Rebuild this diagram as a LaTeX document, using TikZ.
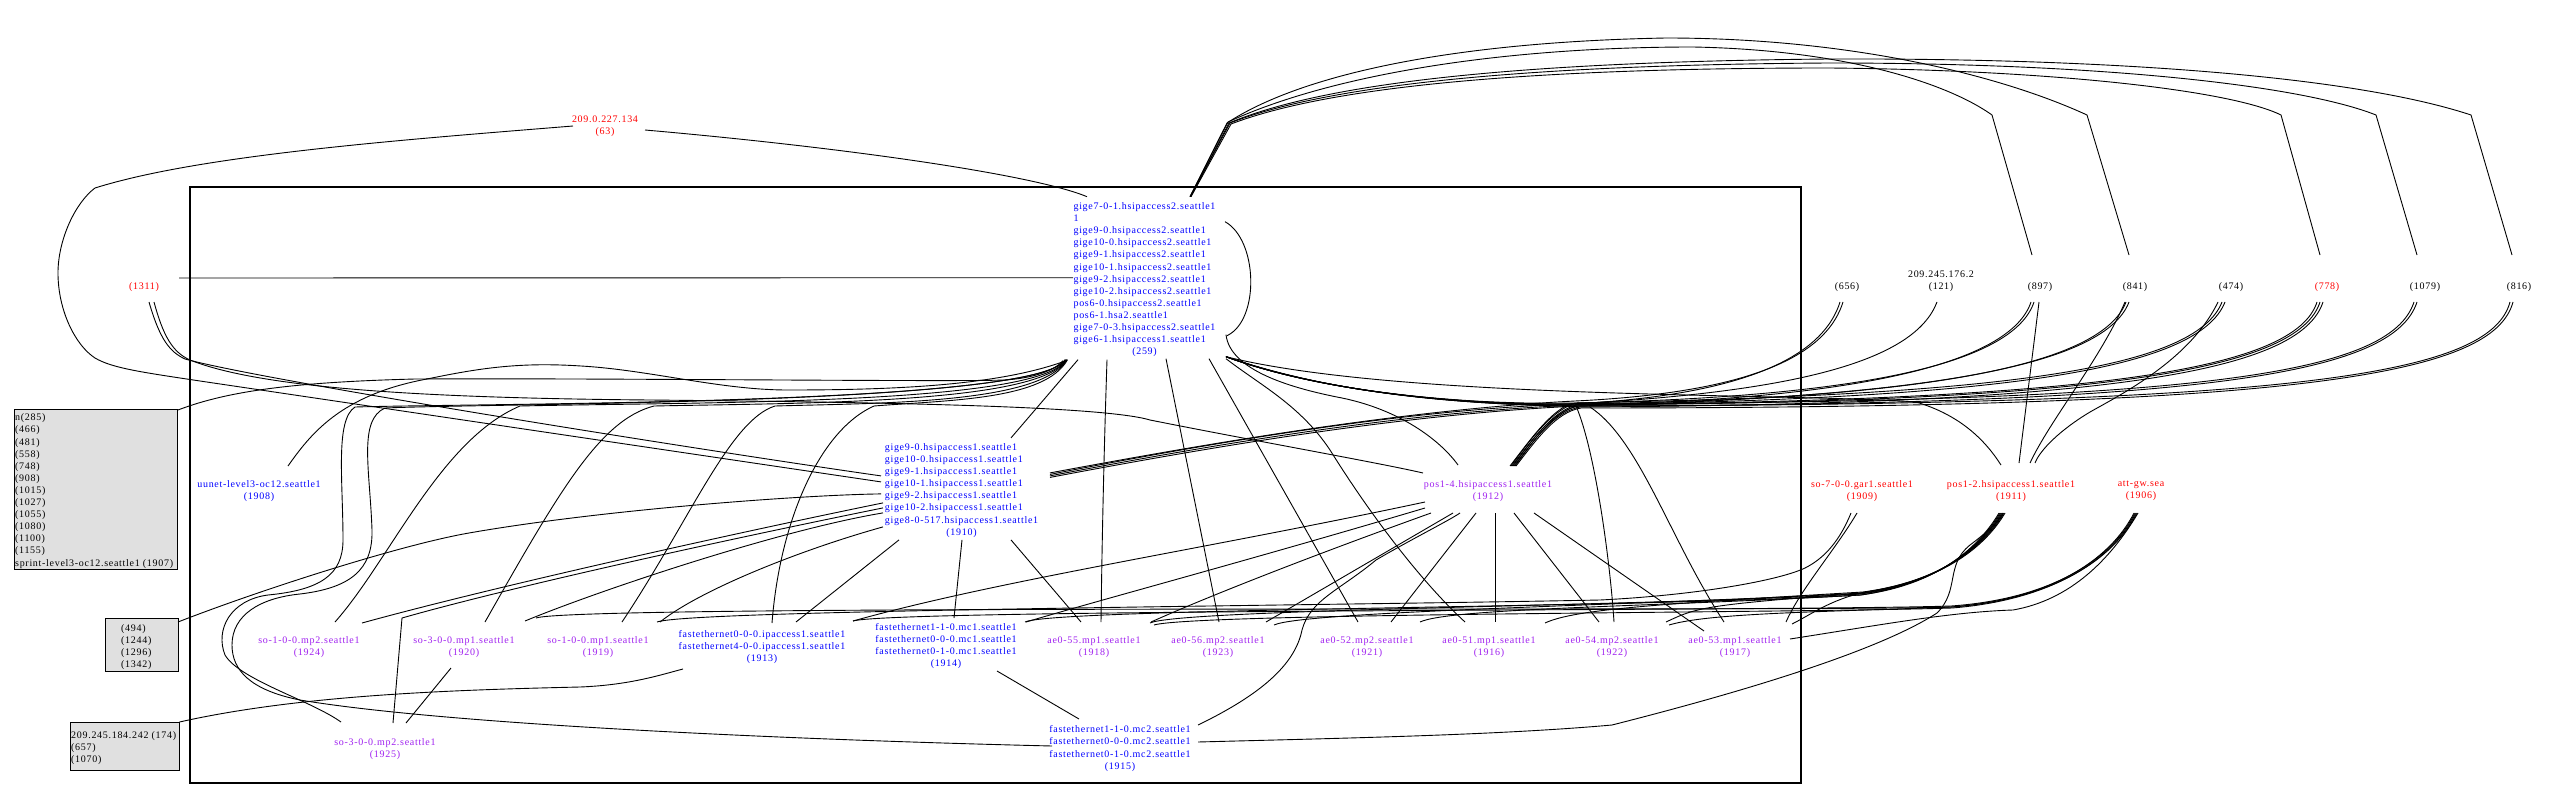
\documentclass[tikz,border=0pt]{standalone}
\usepackage{fontspec}
\setmainfont{Liberation Serif}[LetterSpace=7]
\usetikzlibrary{calc}
\definecolor{nblue}{RGB}{0,0,255}
\definecolor{nred}{RGB}{255,0,0}
\definecolor{npurple}{RGB}{160,32,240}
\definecolor{ngray}{RGB}{224,224,224}
\tikzset{
  lbl/.style={font=\fontsize{10}{12.1}\selectfont, inner sep=0pt, align=center},
  bl/.style={lbl, text=nblue},
  rd/.style={lbl, text=nred},
  pu/.style={lbl, text=npurple},
  bk/.style={lbl, text=black},
  gbox/.style={draw=black, fill=ngray, line width=1pt, inner sep=0pt},
  conn/.style={draw=black, line width=0.9pt},
}
\begin{document}
\begin{tikzpicture}[x=1pt,y=-1pt]
\useasboundingbox (0,0) rectangle (2569,797);
\fill[white] (0,0) rectangle (2569,797);
% cluster
\draw[line width=1.3pt] (190,187) rectangle (1801,783);

% gray boxes
\node[gbox, minimum width=163.1pt, minimum height=160pt] (n1907) at (96,489) {};
\node[bk, align=left, anchor=west] (t1907) at (15,491) {n(285)\\(466)\\(481)\\(558)\\(748)\\(908)\\(1015)\\(1027)\\(1055)\\(1080)\\(1100)\\(1155)\\sprint-level3-oc12.seattle1 (1907)};
\node[gbox, minimum width=73pt, minimum height=53pt] (nB2) at (141.5,644.5) {};
\node[bk, align=left, anchor=west] (tB2) at (121,647) {(494)\\(1244)\\(1296)\\(1342)};
\node[gbox, minimum width=109pt, minimum height=48pt] (nB3) at (125,746) {};
\node[bk, align=left, anchor=west] (tB3) at (71,748) {209.245.184.242 (174)\\(657)\\(1070)};

% labels
\node[rd] (n63) at (605,126.5) {209.0.227.134\\(63)};
\node[rd] (n1311) at (144,287) {(1311)};
\node[bl] (n259) at (1144.5,279.7) {\begin{tabular}{@{}l@{}}gige7-0-1.hsipaccess2.seattle1\\1\\gige9-0.hsipaccess2.seattle1\\gige10-0.hsipaccess2.seattle1\\gige9-1.hsipaccess2.seattle1\\gige10-1.hsipaccess2.seattle1\\gige9-2.hsipaccess2.seattle1\\gige10-2.hsipaccess2.seattle1\\pos6-0.hsipaccess2.seattle1\\pos6-1.hsa2.seattle1\\gige7-0-3.hsipaccess2.seattle1\\gige6-1.hsipaccess1.seattle1\\\multicolumn{1}{@{}c@{}}{(259)}\end{tabular}};
\node[bl] (n1908) at (259,491) {uunet-level3-oc12.seattle1\\(1908)};
\node[bl] (n1910) at (961.5,490.4) {\begin{tabular}{@{}l@{}}gige9-0.hsipaccess1.seattle1\\gige10-0.hsipaccess1.seattle1\\gige9-1.hsipaccess1.seattle1\\gige10-1.hsipaccess1.seattle1\\gige9-2.hsipaccess1.seattle1\\gige10-2.hsipaccess1.seattle1\\gige8-0-517.hsipaccess1.seattle1\\\multicolumn{1}{@{}c@{}}{(1910)}\end{tabular}};
\node[pu] (n1912) at (1488,491) {pos1-4.hsipaccess1.seattle1\\(1912)};
\node[rd] (n1909) at (1862,491) {so-7-0-0.gar1.seattle1\\(1909)};
\node[rd] (n1911) at (2011,491) {pos1-2.hsipaccess1.seattle1\\(1911)};
\node[rd] (n1906) at (2141,491) {att-gw.sea\\(1906)};
\node[bk] (n656) at (1847,287) {(656)};
\node[bk] (n121) at (1941,281) {209.245.176.2\\(121)};
\node[bk] (n897) at (2040,287) {(897)};
\node[bk] (n841) at (2135,287) {(841)};
\node[bk] (n474) at (2231,287) {(474)};
\node[rd] (n778) at (2327,287) {(778)};
\node[bk] (n1079) at (2425,287) {(1079)};
\node[bk] (n816) at (2519,287) {(816)};
\node[pu] (n1924) at (309,647) {so-1-0-0.mp2.seattle1\\(1924)};
\node[pu] (n1920) at (464,647) {so-3-0-0.mp1.seattle1\\(1920)};
\node[pu] (n1919) at (598,647) {so-1-0-0.mp1.seattle1\\(1919)};
\node[bl] (n1913) at (762,647) {fastethernet0-0-0.ipaccess1.seattle1\\fastethernet4-0-0.ipaccess1.seattle1\\(1913)};
\node[bl] (n1914) at (946,646) {fastethernet1-1-0.mc1.seattle1\\fastethernet0-0-0.mc1.seattle1\\fastethernet0-1-0.mc1.seattle1\\(1914)};
\node[pu] (n1918) at (1094,647) {ae0-55.mp1.seattle1\\(1918)};
\node[pu] (n1923) at (1218,647) {ae0-56.mp2.seattle1\\(1923)};
\node[pu] (n1921) at (1367,647) {ae0-52.mp2.seattle1\\(1921)};
\node[pu] (n1916) at (1489,647) {ae0-51.mp1.seattle1\\(1916)};
\node[pu] (n1922) at (1612,647) {ae0-54.mp2.seattle1\\(1922)};
\node[pu] (n1917) at (1735,647) {ae0-53.mp1.seattle1\\(1917)};
\node[pu] (n1925) at (385,749) {so-3-0-0.mp2.seattle1\\(1925)};
\node[bl] (n1915) at (1120,748.5) {fastethernet1-1-0.mc2.seattle1\\fastethernet0-0-0.mc2.seattle1\\fastethernet0-1-0.mc2.seattle1\\(1915)};

% ---- connectors ----
\path[conn] ($(n63)+(40,3.5)$) .. controls (850,148) and (1035,175) .. ($(n259)+(-57.5,-83)$);
\path[conn] ($(n63)+(-32,-0.5)$) .. controls (400,140) and (200,155) .. (95,188) .. controls (75,203) and (58,240) .. (58,273) .. controls (58,310) and (75,345) .. (95,358) .. controls (112,368) and (140,372) .. (200,381) -- ($(n1910)+(-80.5,-8.5)$);
\path[conn] ($(n1311)+(35,-9)$) -- ($(n259)+(-71.5,-2)$);
\path[conn] ($(n1311)+(5,15)$) .. controls (160,340) and (170,352) .. (185,359) .. controls (260,380) and (700,450) .. ($(n1910)+(-80.5,-14.5)$);
\path[conn] ($(n1311)+(10,15)$) .. controls (163,335) and (172,352) .. (190,360) .. controls (260,388) and (420,398) .. (650,400) .. controls (850,402) and (1100,405) .. (1150,420) .. controls (1250,440) and (1380,463) .. ($(n1912)+(-65,-18)$);
\path[conn] ($(n1907)+(82,-79)$) .. controls (230,390) and (300,382) .. (415,379) .. controls (600,378) and (950,382) .. (1005,380) .. controls (1035,378) and (1055,370) .. ($(n259)+(-81.5,81)$);
\path[conn] ($(n1908)+(29,-25)$) .. controls (310,435) and (340,395) .. (427,379) .. controls (480,368) and (520,362) .. (581,366) .. controls (650,370) and (720,390) .. (788,390) .. controls (900,390) and (1000,385) .. ($(n259)+(-78.5,81)$);
% bundle into 259 bottom-left
\path[conn] ($(n1924)+(26,-25)$) .. controls (390,560) and (440,440) .. (520,406) .. controls (700,402) and (1040,405) .. ($(n259)+(-78.5,80)$);
\path[conn] ($(n1920)+(21,-25)$) .. controls (560,490) and (600,420) .. (654,406) .. controls (800,403) and (1040,404) .. ($(n259)+(-78,80)$);
\path[conn] ($(n1919)+(24,-25)$) .. controls (690,520) and (730,420) .. (775,406) .. controls (880,403) and (1040,404) .. ($(n259)+(-77.5,80)$);
\path[conn] ($(n1913)+(10,-24)$) .. controls (780,520) and (820,430) .. (874,406) .. controls (950,400) and (1045,400) .. ($(n259)+(-77,80)$);
\path[conn] ($(n1925)+(-44,-27)$) .. controls (310,700) and (240,680) .. (225,655) .. controls (215,630) and (230,600) .. (268,595) .. controls (320,590) and (343,575) .. (343,540) .. controls (343,480) and (335,420) .. (355,407) .. controls (500,403) and (1040,405) .. ($(n259)+(-79,80)$);
\path[conn] ($(n1915)+(-68,-2.5)$) .. controls (800,740) and (450,725) .. (300,700) .. controls (250,690) and (232,670) .. (232,645) .. controls (232,615) and (260,598) .. (300,594) .. controls (350,588) and (373,570) .. (372,530) .. controls (370,470) and (358,420) .. (385,408) .. controls (500,403) and (1040,405) .. ($(n259)+(-79.5,80)$);
% 259 down
\path[conn] ($(n259)+(-66.5,80)$) -- ($(n1910)+(49.5,-52.5)$);
\path[conn] ($(n259)+(-37.5,80)$) .. controls (1104,450) and (1102,540) .. ($(n1918)+(7,-25)$);
\path[conn] ($(n1910)+(0.5,49.5)$) -- ($(n1914)+(8,-28)$);
\path[conn] ($(n259)+(21.5,79)$) -- ($(n1923)+(1,-25)$);
\path[conn] ($(n259)+(64.5,79)$) -- ($(n1921)+(-9,-25)$);
\path[conn] ($(n259)+(81.5,79)$) .. controls (1260,385) and (1300,405) .. (1330,450) .. controls (1380,530) and (1430,590) .. ($(n1916)+(-24,-25)$);
\path[conn] ($(n259)+(81.5,55)$) .. controls (1230,370) and (1290,388) .. (1342,398) .. controls (1400,410) and (1440,440) .. ($(n1912)+(-30,-26)$);
\path[conn] ($(n259)+(80.5,-58)$) .. controls (1258,240) and (1260,320) .. ($(n259)+(82.5,56)$);
% 1910 fan to the left / down
\path[conn] ($(nB2)+(36.5,-22.5)$) .. controls (260,590) and (400,545) .. (469,533) .. controls (600,510) and (800,495) .. ($(n1910)+(-80.5,3.5)$);
\path[conn] ($(n1910)+(-78.5,12.5)$) .. controls (750,530) and (500,585) .. ($(n1924)+(53,-24)$);
\path[conn] ($(n1910)+(-78.5,17.5)$) .. controls (700,545) and (500,590) .. (402,618) -- ($(n1925)+(8,-26)$);
\path[conn] ($(n1910)+(-78.5,22.5)$) .. controls (780,530) and (600,590) .. ($(n1920)+(61,-26)$);
\path[conn] ($(n1910)+(-78.5,36.5)$) .. controls (800,550) and (700,590) .. ($(n1919)+(62,-25)$);
\path[conn] ($(n1910)+(-62.5,49.5)$) -- ($(n1913)+(34,-25)$);
\path[conn] ($(n1910)+(49.5,49.5)$) -- ($(n1918)+(-13,-25)$);
\path[conn] ($(n1920)+(-13,21)$) -- ($(n1925)+(21,-26)$);
\path[conn] ($(nB3)+(54.5,-24)$) .. controls (300,695) and (450,690) .. (580,687) .. controls (630,685) and (660,675) .. ($(n1913)+(-79,22)$);
\path[conn] ($(n1914)+(51,25)$) -- ($(n1915)+(-41,-29.5)$);
\path[conn] ($(n1915)+(78,-6.5)$) .. controls (1350,738) and (1500,735) .. (1612,725) .. controls (1750,690) and (1880,650) .. (1937,613) .. controls (1960,590) and (1945,565) .. (1970,545) .. controls (1990,530) and (2000,520) .. ($(n1911)+(-8,22)$);
\path[conn] ($(n1915)+(78,-23.5)$) .. controls (1260,695) and (1295,665) .. (1302,630) .. controls (1310,600) and (1340,590) .. (1376,560) .. controls (1410,540) and (1450,520) .. ($(n1912)+(-28,22)$);
% 1912 fan
\path[conn] ($(n1912)+(-63,11)$) .. controls (1200,550) and (1000,580) .. ($(n1913)+(91,-26)$);
\path[conn] ($(n1912)+(-63,17)$) .. controls (1250,560) and (1100,600) .. ($(n1914)+(80,-24)$);
\path[conn] ($(n1912)+(-57,22)$) .. controls (1300,560) and (1200,600) .. ($(n1918)+(57,-25)$);
\path[conn] ($(n1912)+(-35,22)$) -- ($(n1923)+(48,-25)$);
\path[conn] ($(n1912)+(-12,22)$) -- ($(n1921)+(24,-25)$);
\path[conn] ($(n1912)+(7,22)$) -- ($(n1916)+(6,-25)$);
\path[conn] ($(n1912)+(26,22)$) -- ($(n1922)+(-13,-25)$);
\path[conn] ($(n1912)+(46,22)$) -- ($(n1917)+(-31,-16)$);
\path[conn] ($(n259)+(81.5,77)$) .. controls (1350,400) and (1500,405) .. (1576,406) .. controls (1595,450) and (1610,560) .. ($(n1922)+(2,-25)$);
\path[conn] ($(n259)+(81.5,77)$) .. controls (1350,400) and (1500,405) .. (1590,407) .. controls (1640,440) and (1670,540) .. ($(n1917)+(-11,-25)$);
% top arcs from 259
\path[conn] ($(n259)+(45.5,-83)$) -- (1227,123) .. controls (1300,75) and (1450,42) .. (1666,38) .. controls (1850,38) and (2000,75) .. (2087,115) -- ($(n841)+(-6,-32)$);
\path[conn] ($(n259)+(45.5,-83)$) -- (1228,122) .. controls (1330,75) and (1500,47) .. (1693,47) .. controls (1850,50) and (1950,85) .. (1992,115) -- ($(n897)+(-8,-32)$);
\path[conn] ($(n259)+(46,-83)$) -- (1229,123) .. controls (1320,85) and (1500,62) .. (1829,59) .. controls (2100,58) and (2350,75) .. (2471,115) -- ($(n816)+(-7,-32)$);
\path[conn] ($(n259)+(46,-83)$) -- (1230,123) .. controls (1320,88) and (1500,65) .. (1829,63) .. controls (2100,63) and (2300,85) .. (2376,115) -- ($(n1079)+(-8,-32)$);
\path[conn] ($(n259)+(46.5,-83)$) -- (1231,124) .. controls (1320,90) and (1500,68) .. (1829,68) .. controls (2050,70) and (2230,90) .. (2281,115) -- ($(n778)+(-7,-32)$);
% hub to top-right nodes
\path[conn] ($(n259)+(81.5,77)$) .. controls (1330,395) and (1480,405) .. (1570,404) .. controls (1760,395) and (1825,350) .. ($(n656)+(-7,15)$);
\path[conn] ($(n1910)+(88.5,-17.5)$) .. controls (1200,445) and (1400,410) .. (1575,401) .. controls (1765,392) and (1828,350) .. ($(n656)+(-4,15)$);
\path[conn] ($(n1912)+(22,-25)$) .. controls (1530,440) and (1550,412) .. (1570,404) .. controls (1800,392) and (1915,360) .. ($(n121)+(-4,21)$);
\path[conn] ($(n259)+(81.5,77)$) .. controls (1330,395) and (1480,405) .. (1572,405) .. controls (1850,400) and (2010,365) .. ($(n897)+(-9,15)$);
\path[conn] ($(n1912)+(23,-25)$) .. controls (1530,440) and (1550,412) .. (1575,403) .. controls (1855,397) and (2013,365) .. ($(n897)+(-6,15)$);
\path[conn] ($(n1910)+(88.5,-16)$) .. controls (1200,445) and (1400,410) .. (1570,404) .. controls (1900,400) and (2100,370) .. ($(n841)+(-9,15)$);
\path[conn] ($(n1912)+(24,-25)$) .. controls (1532,440) and (1552,412) .. (1578,406) .. controls (1905,397) and (2103,370) .. ($(n841)+(-6,15)$);
\path[conn] ($(n259)+(81.5,77)$) .. controls (1330,395) and (1480,405) .. (1574,403) .. controls (2000,395) and (2195,370) .. ($(n474)+(-9,15)$);
\path[conn] ($(n1912)+(25,-25)$) .. controls (1532,440) and (1552,412) .. (1576,405) .. controls (2005,398) and (2198,370) .. ($(n474)+(-6,15)$);
\path[conn] ($(n259)+(81.5,77)$) .. controls (1330,395) and (1480,405) .. (1570,405) .. controls (2100,400) and (2295,370) .. ($(n778)+(-10,15)$);
\path[conn] ($(n1910)+(88.5,-14.5)$) .. controls (1200,447) and (1400,412) .. (1578,405) .. controls (2105,402) and (2298,370) .. ($(n778)+(-7,15)$);
\path[conn] ($(n1912)+(26,-25)$) .. controls (1534,440) and (1554,412) .. (1580,407) .. controls (2110,404) and (2300,372) .. ($(n778)+(-4,15)$);
\path[conn] ($(n259)+(81.5,77)$) .. controls (1330,395) and (1480,405) .. (1573,404) .. controls (2200,402) and (2390,375) .. ($(n1079)+(-11,15)$);
\path[conn] ($(n1912)+(27,-25)$) .. controls (1534,440) and (1554,412) .. (1577,406) .. controls (2205,405) and (2393,375) .. ($(n1079)+(-8,15)$);
\path[conn] ($(n1910)+(88.5,-13)$) .. controls (1200,449) and (1400,414) .. (1579,406) .. controls (2300,405) and (2490,375) .. ($(n816)+(-9,15)$);
\path[conn] ($(n1912)+(28,-25)$) .. controls (1536,440) and (1556,412) .. (1581,408) .. controls (2305,408) and (2493,375) .. ($(n816)+(-6,15)$);
% into 1911 from above
\path[conn] ($(n897)+(-1,15)$) -- ($(n1911)+(8,-28)$);
\path[conn] ($(n841)+(-10,15)$) .. controls (2100,360) and (2050,420) .. ($(n1911)+(19,-28)$);
\path[conn] ($(n474)+(-13,15)$) .. controls (2190,360) and (2120,395) .. (2090,412) .. controls (2060,430) and (2040,450) .. ($(n1911)+(24,-28)$);
\path[conn] ($(n259)+(81.5,77)$) .. controls (1400,400) and (1800,393) .. (1916,402) .. controls (1960,415) and (1985,440) .. ($(n1911)+(-10,-26)$);
% bottom bundle to 1911
\path[conn] ($(n1914)+(79,-24)$) .. controls +(30,-14) and (1650,608) .. (1860,595) .. controls (1940,585) and (1980,545) .. ($(n1911)+(-12,22)$);
\path[conn] ($(n1918)+(56,-24)$) .. controls +(30,-14) and (1650,606) .. (1860,594) .. controls (1941,584) and (1981,545) .. ($(n1911)+(-11,22)$);
\path[conn] ($(n1923)+(56,-22)$) .. controls +(30,-14) and (1650,605) .. (1862,593) .. controls (1942,583) and (1982,545) .. ($(n1911)+(-10,22)$);
\path[conn] ($(n1921)+(53,-25)$) .. controls +(30,-14) and (1650,607) .. (1861,595) .. controls (1943,582) and (1983,545) .. ($(n1911)+(-9,22)$);
\path[conn] ($(n1916)+(56,-24)$) .. controls +(30,-14) and (1660,604) .. (1863,592) .. controls (1944,581) and (1984,545) .. ($(n1911)+(-8,22)$);
\path[conn] ($(n1922)+(54,-25)$) .. controls +(30,-14) and (1700,605) .. (1864,593) .. controls (1945,580) and (1985,545) .. ($(n1911)+(-7,22)$);
\path[conn] ($(n1917)+(57,-23)$) .. controls +(20,-10) and (1830,600) .. (1865,592) .. controls (1946,580) and (1986,545) .. ($(n1911)+(-6,22)$);
% bottom bundle to 1906
\path[conn] ($(n1920)+(72,-29)$) .. controls +(40,-14) and (1800,612) .. (1950,607) .. controls (2050,600) and (2110,560) .. ($(n1906)+(-7,22)$);
\path[conn] ($(n1913)+(91,-26)$) .. controls +(40,-12) and (1800,611) .. (1951,606) .. controls (2051,599) and (2111,560) .. ($(n1906)+(-6,22)$);
\path[conn] ($(n1918)+(60,-22)$) .. controls +(40,-12) and (1800,613) .. (1952,608) .. controls (2052,600) and (2112,560) .. ($(n1906)+(-5,22)$);
\path[conn] ($(n1922)+(57,-22)$) .. controls +(40,-12) and (1820,612) .. (1953,607) .. controls (2053,599) and (2113,560) .. ($(n1906)+(-4,22)$);
\path[conn] ($(n1917)+(55,-8)$) .. controls (1880,625) and (1950,612) .. (2013,610) .. controls (2070,600) and (2110,560) .. ($(n1906)+(-3,22)$);
% to 1909
\path[conn] ($(n1917)+(51,-25)$) .. controls (1800,590) and (1835,550) .. ($(n1909)+(-5,22)$);
\path[conn] ($(n1919)+(59,-25)$) .. controls (690,610) and (1300,606) .. (1600,600) .. controls (1700,595) and (1780,580) .. (1805,568) .. controls (1825,558) and (1840,540) .. ($(n1909)+(-11,22)$);
\end{tikzpicture}
\end{document}
